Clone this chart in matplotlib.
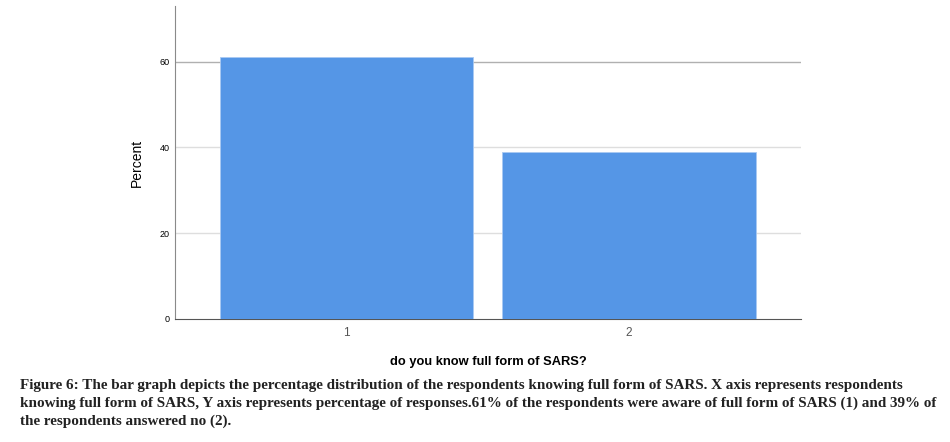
import matplotlib.pyplot as plt
import numpy as np

# answers to "do you know full form of SARS?"
categories = ['1', '2']
percent = [61, 39]
y_ticks = [0, 20, 40, 60]

caption_lines = [
    'Figure 6: The bar graph depicts the percentage distribution of the respondents knowing full form of SARS. X axis represents respondents',
    'knowing full form of SARS, Y axis represents percentage of responses.61% of the respondents were aware of full form of SARS (1) and 39% of',
    'the respondents answered no (2).',
]

fig = plt.figure(figsize=(9.5, 4.42), dpi=100)
ax = fig.add_axes([0.1842, 0.2783, 0.659, 0.7081])

x = np.arange(len(categories))
ax.bar(x, percent, width=0.896, color='#5596e6', edgecolor='#a9c9f2', linewidth=0.6, zorder=3)

ax.set_xlim(-0.607, 1.609)
ax.set_ylim(0, 73)
ax.set_yticks(y_ticks)
ax.set_yticklabels([str(v) for v in y_ticks], fontsize=6.5, family='Liberation Sans')
ax.set_xticks(x)
ax.set_xticklabels(categories, fontsize=8.5, color='#555555', family='Liberation Sans')
ax.tick_params(axis='both', length=0)
ax.tick_params(axis='y', pad=4)
ax.tick_params(axis='x', pad=6)

for v in y_ticks[1:]:
    c = '#b0b0b0' if v == 60 else '#dedede'
    ax.axhline(v, color=c, linewidth=1.0, zorder=1)

for s in ['top', 'right']:
    ax.spines[s].set_visible(False)
ax.spines['left'].set_color('#8a8a8a')
ax.spines['bottom'].set_color('#555555')

ax.set_ylabel('Percent', fontsize=10, family='Liberation Sans', labelpad=11)
ax.set_xlabel('do you know full form of SARS?', fontsize=9.3, fontweight='bold',
              family='Liberation Sans', labelpad=12)

# caption: shrink font so the widest line fits the caption width
texts = []
for i, line in enumerate(caption_lines):
    t = fig.text(20 / 950, 1 - (385 + 18 * i) / 442, line, fontsize=11.2, fontweight='bold',
                 family='Liberation Serif', va='center', ha='left', color='#222222')
    texts.append(t)
r = fig.canvas.get_renderer()
widest = max(t.get_window_extent(r).width for t in texts)
size = 11.2 * 918 / widest
for t in texts:
    t.set_fontsize(size)

fig.savefig('out.png', dpi=100)
